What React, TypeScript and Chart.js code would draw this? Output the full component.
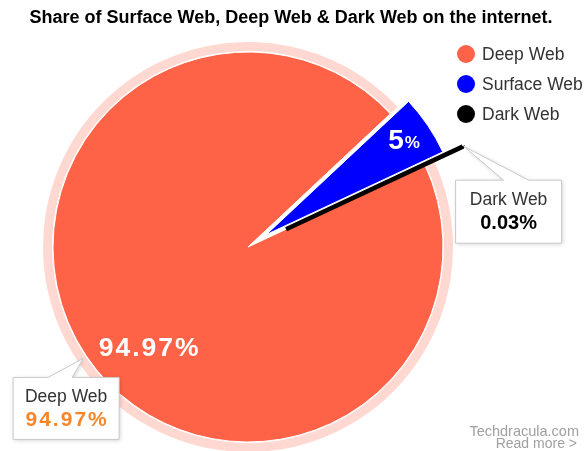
import React, { useEffect, useRef } from 'react';
import { Chart, registerables } from 'chart.js';

Chart.register(...registerables);

// ---- data ----
const categories = ['Deep Web', 'Surface Web', 'Dark Web'];
const shares = [94.97, 5, 0.03];
const sliceColors = ['#ff6347', '#0000ff', '#000000'];
const chartTitle = 'Share of Surface Web, Deep Web & Dark Web on the internet.';
const creditLines = ['Techdracula.com', 'Read more >'];

// ---- style ----
const FONT = "'Liberation Sans', Arial, Helvetica, sans-serif";
const explodeDist = [0, 22, 42];

function setSpacing(ctx: any, px: number) {
  if ('letterSpacing' in ctx) ctx.letterSpacing = px + 'px';
}

function drawCallout(
  ctx: CanvasRenderingContext2D,
  tip: { x: number; y: number },
  box: { x: number; y: number; w: number; h: number },
  b1: number,
  b2: number,
  label: string,
  value: string,
  valueColor: string,
  valueSize: number,
  valueSpacing: number
) {
  ctx.save();
  ctx.beginPath();
  ctx.moveTo(box.x, box.y);
  ctx.lineTo(b1, box.y);
  ctx.lineTo(tip.x, tip.y);
  ctx.lineTo(b2, box.y);
  ctx.lineTo(box.x + box.w, box.y);
  ctx.lineTo(box.x + box.w, box.y + box.h);
  ctx.lineTo(box.x, box.y + box.h);
  ctx.closePath();
  ctx.shadowColor = 'rgba(0,0,0,0.18)';
  ctx.shadowBlur = 4;
  ctx.shadowOffsetX = 1;
  ctx.shadowOffsetY = 1;
  ctx.fillStyle = '#ffffff';
  ctx.fill();
  ctx.shadowColor = 'transparent';
  ctx.lineWidth = 1;
  ctx.strokeStyle = '#c9c9c9';
  ctx.stroke();
  const cx = box.x + box.w / 2;
  ctx.textAlign = 'center';
  ctx.textBaseline = 'middle';
  ctx.fillStyle = '#333333';
  ctx.font = `17.5px ${FONT}`;
  ctx.fillText(label, cx, box.y + 20);
  ctx.fillStyle = valueColor;
  ctx.font = `bold ${valueSize}px ${FONT}`;
  setSpacing(ctx, valueSpacing);
  ctx.fillText(value, cx + valueSpacing / 2, box.y + 43);
  setSpacing(ctx, 0);
  ctx.restore();
}

const decorPlugin = {
  id: 'pieDecor',
  afterDatasetsUpdate(chart: any) {
    const meta = chart.getDatasetMeta(0);
    meta.data.forEach((arc: any, i: number) => {
      const d = explodeDist[i] || 0;
      if (!d) return;
      const mid = (arc.startAngle + arc.endAngle) / 2;
      arc.x += Math.cos(mid) * d;
      arc.y += Math.sin(mid) * d;
    });
  },
  beforeDatasetsDraw(chart: any) {
    const ctx = chart.ctx;
    const arc = chart.getDatasetMeta(0).data[0];
    if (!arc) return;
    ctx.save();
    ctx.beginPath();
    ctx.arc(arc.x, arc.y, arc.outerRadius + 10, arc.startAngle, arc.endAngle);
    ctx.arc(arc.x, arc.y, arc.outerRadius + 1, arc.endAngle, arc.startAngle, true);
    ctx.closePath();
    ctx.fillStyle = 'rgba(255,99,71,0.25)';
    ctx.fill();
    ctx.restore();
  },
  afterDatasetsDraw(chart: any) {
    const ctx = chart.ctx;
    const arcs = chart.getDatasetMeta(0).data;
    const vals = chart.data.datasets[0].data as number[];
    ctx.save();
    ctx.fillStyle = '#ffffff';
    ctx.textBaseline = 'alphabetic';
    // Deep Web label
    {
      const a = arcs[0];
      const ang = (135 * Math.PI) / 180;
      const r = a.outerRadius * 0.72;
      const x = a.x + Math.cos(ang) * r;
      const y = a.y + Math.sin(ang) * r;
      ctx.font = `bold 26.5px ${FONT}`;
      setSpacing(ctx, 2);
      ctx.textAlign = 'center';
      ctx.fillText(`${vals[0]}%`, x + 1, y + 9.5);
      setSpacing(ctx, 0);
    }
    // Surface Web label: big number, small %
    {
      const a = arcs[1];
      const mid = (a.startAngle + a.endAngle) / 2;
      const r = a.outerRadius * 0.86;
      const x = a.x + Math.cos(mid) * r;
      const y = a.y + Math.sin(mid) * r;
      ctx.font = `bold 28px ${FONT}`;
      const numStr = `${vals[1]}`;
      const w1 = ctx.measureText(numStr).width;
      ctx.font = `bold 17px ${FONT}`;
      const w2 = ctx.measureText('%').width;
      const left = x - (w1 + w2 + 1) / 2 - 1;
      ctx.textAlign = 'left';
      ctx.font = `bold 28px ${FONT}`;
      ctx.fillText(numStr, left, y + 8);
      ctx.font = `bold 17px ${FONT}`;
      ctx.fillText('%', left + w1 + 1, y + 7);
    }
    ctx.restore();
  },
  afterDraw(chart: any) {
    const ctx = chart.ctx;
    const ds = chart.data.datasets[0];
    const labels = chart.data.labels as string[];
    const arcs = chart.getDatasetMeta(0).data;
    ctx.save();
    // title
    ctx.fillStyle = '#000000';
    ctx.font = `bold 18px ${FONT}`;
    ctx.textAlign = 'center';
    ctx.textBaseline = 'middle';
    ctx.fillText(chartTitle, 291, 18);
    // legend
    labels.forEach((lab, i) => {
      const y = 54 + i * 30;
      ctx.beginPath();
      ctx.arc(466, y, 9, 0, Math.PI * 2);
      ctx.fillStyle = ds.backgroundColor[i];
      ctx.fill();
      ctx.fillStyle = '#333333';
      ctx.font = `17.5px ${FONT}`;
      ctx.textAlign = 'left';
      ctx.textBaseline = 'middle';
      ctx.fillText(lab, 482, y + 1);
    });
    // callouts
    const vals = ds.data as number[];
    {
      const a = arcs[0];
      const mid = (a.startAngle + a.endAngle) / 2;
      const tip = { x: a.x + Math.cos(mid) * (a.outerRadius + 4), y: a.y + Math.sin(mid) * (a.outerRadius + 4) };
      drawCallout(ctx, tip, { x: tip.x - 70, y: tip.y + 19, w: 106, h: 62 }, tip.x - 35, tip.x - 11,
        labels[0], `${vals[0]}%`, '#f7862b', 21, 2);
    }
    {
      const a = arcs[2];
      const mid = (a.startAngle + a.endAngle) / 2;
      const tip = { x: a.x + Math.cos(mid) * (a.outerRadius + 1), y: a.y + Math.sin(mid) * (a.outerRadius + 1) };
      drawCallout(ctx, tip, { x: tip.x - 8, y: tip.y + 34, w: 106, h: 63 }, tip.x + 40, tip.x + 65,
        labels[2], `${vals[2]}%`, '#000000', 20, 0);
    }
    // credits
    ctx.fillStyle = '#a0a0a0';
    ctx.font = `14.5px ${FONT}`;
    ctx.textAlign = 'right';
    ctx.textBaseline = 'alphabetic';
    ctx.fillText(creditLines[0], 579, 436);
    ctx.font = `14px ${FONT}`;
    ctx.fillText(creditLines[1], 577, 448);
    ctx.restore();
  },
};

export default function App() {
  const ref = useRef<HTMLCanvasElement | null>(null);
  useEffect(() => {
    if (!ref.current) return;
    const chart = new Chart(ref.current, {
      type: 'pie',
      data: {
        labels: categories,
        datasets: [
          {
            data: shares,
            backgroundColor: sliceColors,
            borderColor: ['#ffffff', '#ffffff', '#000000'],
            borderWidth: [1, 1, 4.5],
          },
        ],
      },
      options: {
        animation: false,
        responsive: true,
        maintainAspectRatio: false,
        events: [],
        rotation: 65,
        radius: 195,
        layout: { padding: { left: 0, right: 89, top: 43, bottom: 0 } },
        plugins: {
          legend: { display: false },
          tooltip: { enabled: false },
          title: { display: false },
        },
      },
      plugins: [decorPlugin],
    } as any);
    return () => chart.destroy();
  }, []);
  return (
    <div style={{ position: 'fixed', left: 0, top: 0, width: 585, height: 451, background: '#ffffff' }}>
      <canvas ref={ref} style={{ width: '100%', height: '100%' }} />
    </div>
  );
}
